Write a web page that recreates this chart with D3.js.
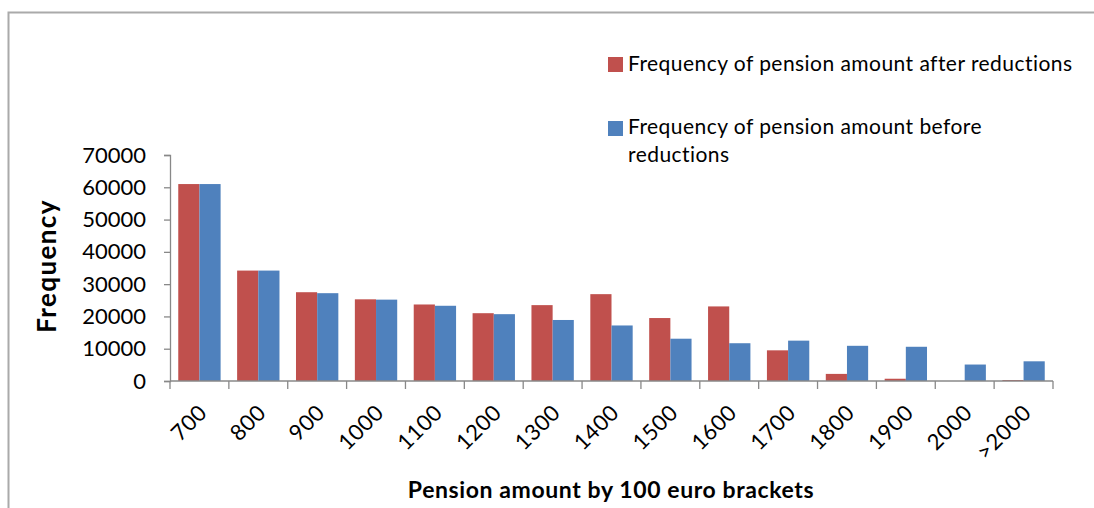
<!DOCTYPE html>
<html>
<head>
<meta charset="utf-8">
<script src="https://cdn.jsdelivr.net/npm/d3@7"></script>
<style>
  body { margin: 0; background: #fff; }
  text { font-family: Lato, "Open Sans", sans-serif; }
</style>
</head>
<body>
<div id="wrapper"></div>
<script>
// categories and both series
const brackets = ["700", "800", "900", "1000", "1100", "1200", "1300", "1400",
    "1500", "1600", "1700", "1800", "1900", "2000", ">2000"];
const afterReductions = [61000, 34200, 27500, 25300, 23700, 21000, 23500, 26900,
    19500, 23100, 9500, 2200, 700, 0, 300];
const beforeReductions = [61000, 34200, 27200, 25200, 23300, 20700, 18900, 17200,
    13100, 11700, 12500, 10900, 10600, 5100, 6100];
const yTicks = [0, 10000, 20000, 30000, 40000, 50000, 60000, 70000];
const seriesNames = ["Frequency of pension amount after reductions",
    "Frequency of pension amount before reductions"];

function buildPlot() {
    const dimension = {
        width: 1094,
        height: 508,
        margin: { top: 155, left: 170, bottom: 127, right: 41 }
    };
    dimension.boundedWidth = dimension.width - dimension.margin.left - dimension.margin.right;
    dimension.boundedHeight = dimension.height - dimension.margin.top - dimension.margin.bottom;

    const colors = ["#c0504d", "#4f81bd"];

    const svg = d3.select("#wrapper").append("svg")
        .attr("width", dimension.width)
        .attr("height", dimension.height);

    // chart frame (only top and left edges are in the picture)
    svg.append("path")
        .attr("d", "M8.5,508 V12.5 H1094")
        .attr("fill", "none")
        .attr("stroke", "#aaaaaa")
        .attr("stroke-width", 2);

    const bounded = svg.append("g")
        .attr("transform", `translate(${dimension.margin.left},${dimension.margin.top})`);

    const xScaler = d3.scaleBand()
        .domain(brackets)
        .range([0, dimension.boundedWidth]);

    const inner = d3.scaleBand()
        .domain([0, 1])
        .range([0, xScaler.bandwidth()])
        .paddingInner(0)
        .paddingOuter(0.39);

    const yScaler = d3.scaleLinear()
        .domain([0, 70000])
        .range([dimension.boundedHeight, 0]);

    const rows = brackets.map((b, i) => ({ b, v: [afterReductions[i], beforeReductions[i]] }));

    const groups = bounded.selectAll("g.cat")
        .data(rows)
        .join("g")
        .attr("class", "cat")
        .attr("transform", d => `translate(${xScaler(d.b)},0)`);

    groups.selectAll("rect")
        .data(d => d.v)
        .join("rect")
        .attr("x", (d, i) => inner(i))
        .attr("width", inner.bandwidth())
        .attr("y", d => yScaler(d))
        .attr("height", d => dimension.boundedHeight - yScaler(d))
        .attr("fill", (d, i) => colors[i]);

    // y axis
    const yAxis = bounded.append("g")
        .call(d3.axisLeft(yScaler).tickValues(yTicks).tickSize(6).tickPadding(18).tickFormat(d3.format("d")));
    yAxis.select(".domain").attr("stroke", "#888").attr("stroke-width", 1.3);
    yAxis.selectAll(".tick line").attr("stroke", "#888").attr("stroke-width", 1.3);
    yAxis.selectAll(".tick text")
        .attr("font-size", 22)
        .attr("font-family", "Lato, sans-serif")
        .attr("fill", "#000");

    // x axis: ticks on category boundaries
    const edges = brackets.map(b => xScaler(b)).concat([dimension.boundedWidth]);
    const xAxis = bounded.append("g")
        .attr("transform", `translate(0,${dimension.boundedHeight})`);
    xAxis.append("line")
        .attr("x1", 0).attr("x2", dimension.boundedWidth)
        .attr("stroke", "#888").attr("stroke-width", 1.3);
    xAxis.selectAll("line.tk")
        .data(edges)
        .join("line")
        .attr("class", "tk")
        .attr("x1", d => d).attr("x2", d => d)
        .attr("y1", 0).attr("y2", 8)
        .attr("stroke", "#888").attr("stroke-width", 1.3);
    xAxis.selectAll("text.lbl")
        .data(brackets)
        .join("text")
        .attr("class", "lbl")
        .attr("text-anchor", "end")
        .attr("font-size", 22)
        .attr("letter-spacing", 0.5)
        .attr("fill", "#000")
        .attr("transform", d => `translate(${xScaler(d) + xScaler.bandwidth() / 2 + 9},${33}) rotate(-45)`)
        .text(d => d);

    // axis titles
    svg.append("text")
        .attr("x", 611)
        .attr("y", 498)
        .attr("text-anchor", "middle")
        .attr("font-size", 23)
        .attr("letter-spacing", 0.6)
        .attr("font-weight", "bold")
        .text("Pension amount by 100 euro brackets");

    svg.append("text")
        .attr("transform", "translate(56,266) rotate(-90)")
        .attr("text-anchor", "middle")
        .attr("font-size", 26)
        .attr("letter-spacing", 1.4)
        .attr("font-weight", "bold")
        .text("Frequency");

    // legend
    const legend = svg.append("g");
    legend.append("rect").attr("x", 608).attr("y", 57).attr("width", 15).attr("height", 15).attr("fill", colors[0]);
    legend.append("text").attr("x", 628).attr("y", 71).attr("font-size", 21).attr("letter-spacing", 0.45).text(seriesNames[0]);
    legend.append("rect").attr("x", 608).attr("y", 121).attr("width", 15).attr("height", 15).attr("fill", colors[1]);
    const t2 = legend.append("text").attr("x", 628).attr("y", 134).attr("font-size", 21).attr("letter-spacing", 0.45);
    t2.append("tspan").attr("x", 628).text("Frequency of pension amount before");
    t2.append("tspan").attr("x", 628).attr("dy", 28).text("reductions");
}

buildPlot();
</script>
</body>
</html>
